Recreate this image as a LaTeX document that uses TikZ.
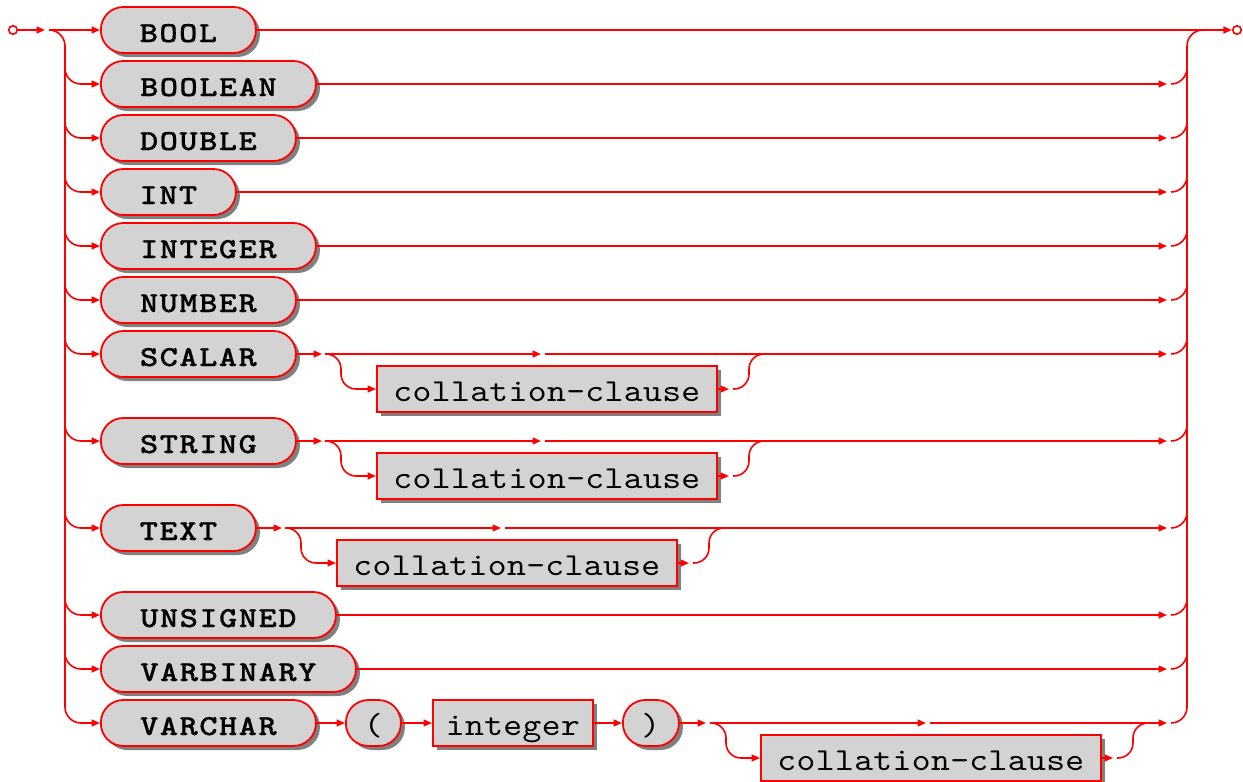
\documentclass[tikz,border=0pt]{standalone}
\usepackage{fontspec}
\newfontfamily\kwfam{lmmonolt10-bold}[Extension=.otf, FakeStretch=1.2, LetterSpace=5, FakeBold=0.6]
\newfontfamily\ntfam{lmmono10-regular}[Extension=.otf, FakeStretch=1.12, LetterSpace=1.2]
\usetikzlibrary{arrows.meta,shadows}
\definecolor{boxgray}{RGB}{211,211,211}
\definecolor{shadowgray}{RGB}{128,128,128}
\definecolor{rrred}{RGB}{255,0,0}
\newcommand{\kwfont}{\kwfam\fontsize{29}{36}\selectfont}
\newcommand{\ntfont}{\ntfam\fontsize{32}{38}\selectfont}
\tikzset{
  base/.style={draw=rrred, line width=1.8pt, fill=boxgray, minimum height=46pt,
    inner sep=0pt, anchor=west, text height=24pt, text depth=0pt,
    drop shadow={shadow xshift=4pt, shadow yshift=-4pt, fill=shadowgray, opacity=1}},
  kw/.style={base, rounded corners=22.5pt, font=\kwfont},
  tm/.style={base, rounded corners=22.5pt, font=\ntfont},
  nt/.style={base, font=\ntfont},
  conn/.style={draw=rrred, line width=1.6pt},
  arr/.style={conn, -{Triangle[length=8.5pt,width=7pt]}},
  term/.style={circle, draw=rrred, line width=1.6pt, minimum size=8.5pt, inner sep=0pt},
}
\begin{document}
\begin{tikzpicture}[x=1pt,y=-1pt]
\useasboundingbox (0,0) rectangle (1243,782);
% terminals
\node[term] (start) at (13,30) {};
\node[term] (finish) at (1237,30) {};
% keyword nodes
\node[kw, minimum width=155pt] (bool) at (100,30) {BOOL};
\node[kw, minimum width=215pt] (boolean) at (100,84) {BOOLEAN};
\node[kw, minimum width=195pt] (double) at (100,138) {DOUBLE};
\node[kw, minimum width=135pt] (int) at (100,192) {INT};
\node[kw, minimum width=215pt] (integer) at (100,246) {INTEGER};
\node[kw, minimum width=195pt] (number) at (100,300) {NUMBER};
\node[kw, minimum width=195pt] (scalar) at (100,354) {SCALAR};
\node[kw, minimum width=195pt] (string) at (100,441) {STRING};
\node[kw, minimum width=155pt] (text) at (100,528) {TEXT};
\node[kw, minimum width=235pt] (unsigned) at (100,615) {UNSIGNED};
\node[kw, minimum width=255pt] (varbinary) at (100,669) {VARBINARY};
\node[kw, minimum width=215pt] (varchar) at (100,723) {VARCHAR};
% other nodes
\node[nt, minimum width=340pt] (collA) at (376,389) {collation-clause};
\node[nt, minimum width=340pt] (collB) at (376,476) {collation-clause};
\node[nt, minimum width=340pt] (collC) at (336,563) {collation-clause};
\node[tm, minimum width=55pt] (lp) at (345,723) {(};
\node[nt, minimum width=160pt] (intg) at (432,723) {integer};
\node[tm, minimum width=56pt] (rp) at (622,723) {)};
\node[nt, minimum width=340pt] (collD) at (760,758) {collation-clause};
% junction coordinates
\coordinate (lsplit) at (49,30);
\coordinate (aS) at (325,354);
\coordinate (aB) at (325,441);
\coordinate (aC) at (285,528);
\coordinate (aD) at (710,723);
% start
\draw[arr] (start) -- (45,30);
\draw[arr] (lsplit) -- (bool.west);
\draw[arr, rounded corners=16pt] (lsplit) -- (65,30) -- (65,723) -- (varchar.west);
\foreach \n/\y in {boolean/84,double/138,int/192,integer/246,number/300,scalar/354,string/441,text/528,unsigned/615,varbinary/669}{
  \draw[arr, rounded corners=16pt] (65,\y-20) -- (65,\y) -- (\n.west);
}
% right rail
\draw[arr] (bool.east) -- (finish.west);
\draw[conn, rounded corners=16pt] (1171,723) -- (1187,723) -- (1187,30) -- (1205,30);
\foreach \n/\y in {boolean/84,double/138,int/192,integer/246,number/300,unsigned/615,varbinary/669}{
  \draw[arr] (\n.east) -- (1167,\y);
}
\foreach \y in {84,138,192,246,300,354,441,528,615,669}{
  \draw[conn, rounded corners=16pt] (1171,\y) -- (1187,\y) -- (1187,\y-20);
}
% SCALAR
\draw[arr] (scalar.east) -- (322,354);
\draw[arr] (aS) -- (541,354);
\draw[arr] (545,354) -- (1167,354);
\draw[arr, rounded corners=15pt] (aS) -- (341,354) -- (341,389) -- (collA.west);
\draw[arr] (collA.east) -- (729,389);
\draw[conn, rounded corners=15pt] (733,389) -- (749,389) -- (749,354) -- (765,354);
% STRING
\draw[arr] (string.east) -- (322,441);
\draw[arr] (aB) -- (541,441);
\draw[arr] (545,441) -- (1167,441);
\draw[arr, rounded corners=15pt] (aB) -- (341,441) -- (341,476) -- (collB.west);
\draw[arr] (collB.east) -- (729,476);
\draw[conn, rounded corners=15pt] (733,476) -- (749,476) -- (749,441) -- (765,441);
% TEXT
\draw[arr] (text.east) -- (282,528);
\draw[arr] (aC) -- (501,528);
\draw[arr] (505,528) -- (1167,528);
\draw[arr, rounded corners=15pt] (aC) -- (301,528) -- (301,563) -- (collC.west);
\draw[arr] (collC.east) -- (689,563);
\draw[conn, rounded corners=15pt] (693,563) -- (709,563) -- (709,528) -- (725,528);
% VARCHAR
\draw[arr] (varchar.east) -- (lp.west);
\draw[arr] (lp.east) -- (intg.west);
\draw[arr] (intg.east) -- (rp.west);
\draw[arr] (rp.east) -- (706,723);
\draw[arr] (aD) -- (926,723);
\draw[arr] (930,723) -- (1167,723);
\draw[arr, rounded corners=15pt] (aD) -- (726,723) -- (726,758) -- (collD.west);
\draw[arr] (collD.east) -- (1113,758);
\draw[conn, rounded corners=15pt] (1117,758) -- (1133,758) -- (1133,723) -- (1150,723);
\end{tikzpicture}
\end{document}
